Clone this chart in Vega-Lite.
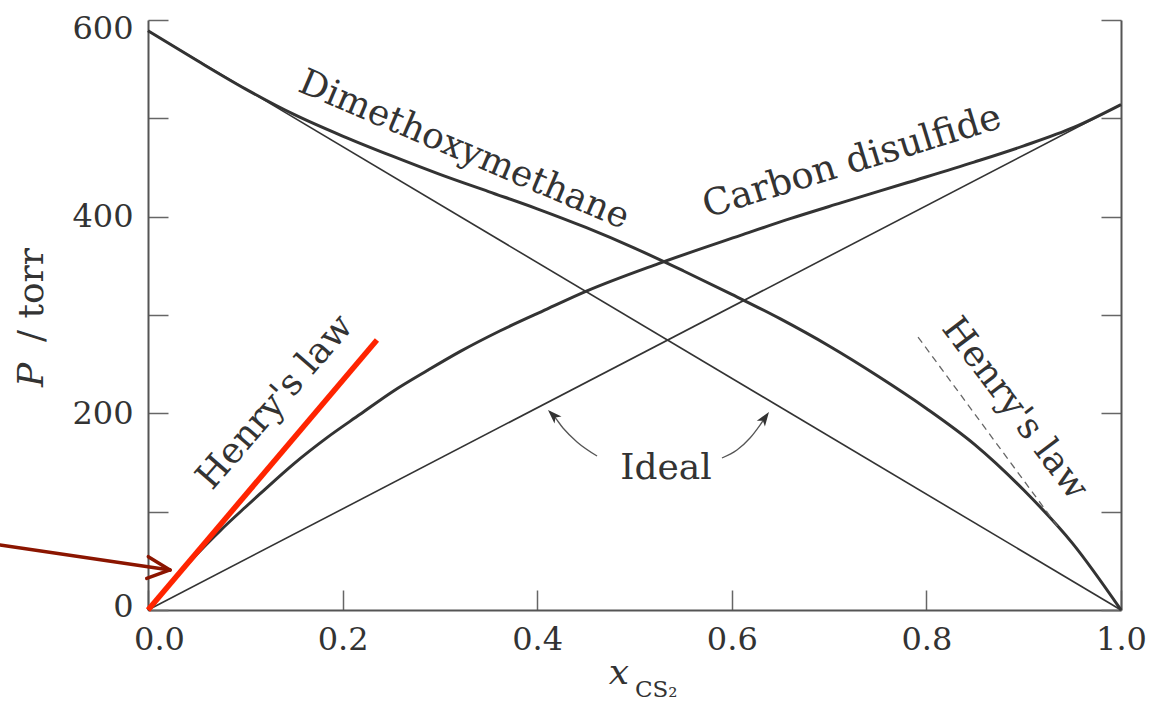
{
  "$schema": "https://vega.github.io/schema/vega-lite/v6.json",
  "width": 973,
  "height": 590,
  "autosize": {"type": "none"},
  "padding": {"left": 148, "top": 20, "right": 44, "bottom": 94},
  "background": "white",
  "config": {"view": {"stroke": null}, "font": "DejaVu Serif"},
  "encoding": {
    "x": {"field": "x", "type": "quantitative", "scale": {"domain": [0, 1], "nice": false, "zero": false},
      "axis": {"orient": "bottom", "values": [0, 0.2, 0.4, 0.6, 0.8, 1], "format": ".1f", "tickSize": -20, "labelPadding": 34,
        "labelOffset": {"condition": {"test": "datum.value === 0", "value": 11}, "value": 0},
        "labelFontSize": 32, "labelFont": "DejaVu Serif", "labelColor": "#333333", "domainColor": "#555555", "domainWidth": 2,
        "tickColor": "#666666", "tickWidth": 1.5, "title": null, "grid": false, "labelFlush": false, "labelOverlap": false}},
    "y": {"field": "p", "type": "quantitative", "scale": {"domain": [0, 600], "nice": false, "zero": false}, "axis": null}
  },
  "resolve": {"axis": {"y": "independent"}},
  "layer": [
    {
      "data": {"values": [
        {"curve": "CS2", "x": 0, "p": 0}, {"curve": "CS2", "x": 0.025, "p": 29}, {"curve": "CS2", "x": 0.05, "p": 56.5},
        {"curve": "CS2", "x": 0.074, "p": 80.5}, {"curve": "CS2", "x": 0.1, "p": 104.5}, {"curve": "CS2", "x": 0.115, "p": 118},
        {"curve": "CS2", "x": 0.1495, "p": 148.4}, {"curve": "CS2", "x": 0.184, "p": 175.3}, {"curve": "CS2", "x": 0.218, "p": 199},
        {"curve": "CS2", "x": 0.252, "p": 222.5}, {"curve": "CS2", "x": 0.287, "p": 243.5}, {"curve": "CS2", "x": 0.321, "p": 263},
        {"curve": "CS2", "x": 0.362, "p": 284}, {"curve": "CS2", "x": 0.41, "p": 306}, {"curve": "CS2", "x": 0.45, "p": 324},
        {"curve": "CS2", "x": 0.524, "p": 352}, {"curve": "CS2", "x": 0.609, "p": 381}, {"curve": "CS2", "x": 0.66, "p": 398},
        {"curve": "CS2", "x": 0.712, "p": 414}, {"curve": "CS2", "x": 0.78, "p": 434.5}, {"curve": "CS2", "x": 0.849, "p": 455.5},
        {"curve": "CS2", "x": 0.9, "p": 472}, {"curve": "CS2", "x": 0.952, "p": 491}, {"curve": "CS2", "x": 1, "p": 514},
        {"curve": "DMM", "x": 0, "p": 589}, {"curve": "DMM", "x": 0.05, "p": 559}, {"curve": "DMM", "x": 0.1, "p": 530},
        {"curve": "DMM", "x": 0.15, "p": 504}, {"curve": "DMM", "x": 0.2, "p": 482}, {"curve": "DMM", "x": 0.25, "p": 462},
        {"curve": "DMM", "x": 0.3, "p": 443}, {"curve": "DMM", "x": 0.35, "p": 425.5}, {"curve": "DMM", "x": 0.4, "p": 408},
        {"curve": "DMM", "x": 0.45, "p": 389}, {"curve": "DMM", "x": 0.5, "p": 368}, {"curve": "DMM", "x": 0.55, "p": 345},
        {"curve": "DMM", "x": 0.6, "p": 321}, {"curve": "DMM", "x": 0.65, "p": 296}, {"curve": "DMM", "x": 0.7, "p": 268.5},
        {"curve": "DMM", "x": 0.75, "p": 238}, {"curve": "DMM", "x": 0.8, "p": 205}, {"curve": "DMM", "x": 0.85, "p": 168},
        {"curve": "DMM", "x": 0.9, "p": 122}, {"curve": "DMM", "x": 0.95, "p": 68}, {"curve": "DMM", "x": 1, "p": 0}
      ]},
      "mark": {"type": "line", "interpolate": "monotone", "color": "#333333", "strokeWidth": 3},
      "encoding": {
        "y": {"field": "p", "type": "quantitative", "scale": {"domain": [0, 600], "nice": false, "zero": false},
          "axis": {"orient": "left", "values": [0, 100, 200, 300, 400, 500, 600], "labelExpr": "datum.value % 200 === 0 ? datum.label : ''",
            "labelOffset": {"condition": [{"test": "datum.value === 600", "value": 8}, {"test": "datum.value === 0", "value": -4}], "value": 0},
            "tickSize": -20, "labelPadding": 35, "labelFontSize": 32, "labelFont": "DejaVu Serif", "labelColor": "#333333",
            "domainColor": "#555555", "domainWidth": 2, "tickColor": "#666666", "tickWidth": 1.5, "title": null, "grid": false,
            "labelFlush": false, "labelOverlap": false}},
        "detail": {"field": "curve"}
      }
    },
    {
      "data": {"values": [
        {"line": "DMM ideal", "x": 0, "p": 589}, {"line": "DMM ideal", "x": 1, "p": 0},
        {"line": "CS2 ideal", "x": 0, "p": 0}, {"line": "CS2 ideal", "x": 1, "p": 514}
      ]},
      "mark": {"type": "line", "color": "#333333", "strokeWidth": 1.6},
      "encoding": {
        "y": {"field": "p", "type": "quantitative", "scale": {"domain": [0, 600], "nice": false, "zero": false},
          "axis": {"orient": "right", "values": [0, 100, 200, 300, 400, 500, 600], "labels": false, "tickSize": -20,
            "domainColor": "#555555", "domainWidth": 2, "tickColor": "#666666", "tickWidth": 1.5, "title": null, "grid": false}},
        "detail": {"field": "line"}
      }
    },
    {
      "data": {"values": [{"x": 0, "p": 0}, {"x": 0.2353, "p": 274.6}]},
      "mark": {"type": "line", "color": "#ff2400", "strokeWidth": 5.5},
      "encoding": {}
    },
    {
      "data": {"values": [{"x": 0.7914, "p": 277.6}, {"x": 0.9353, "p": 84.4}]},
      "mark": {"type": "line", "color": "#666666", "strokeWidth": 1.3, "strokeDash": [7, 5]},
      "encoding": {}
    },
    {
      "data": {"values": [
        {"part": "shaft", "x": -0.1521, "p": 66.1}, {"part": "shaft", "x": 0.0226, "p": 40.7},
        {"part": "arm1", "x": 0.0003, "p": 54.2}, {"part": "arm1", "x": 0.0226, "p": 40.7},
        {"part": "arm2", "x": -0.0013, "p": 32.2}, {"part": "arm2", "x": 0.0226, "p": 40.7}
      ]},
      "mark": {"type": "line", "color": "#8b1500", "strokeWidth": 3.5, "strokeCap": "round", "strokeJoin": "round"},
      "encoding": {"detail": {"field": "part"}}
    },
    {
      "data": {"values": [
        {"part": "left", "x": 0.4615, "p": 156.6}, {"part": "left", "x": 0.4409, "p": 170.9}, {"part": "left", "x": 0.4265, "p": 185.1},
        {"part": "left", "x": 0.4162, "p": 198.4}, {"part": "left", "x": 0.4125, "p": 202},
        {"part": "right", "x": 0.5899, "p": 154.6}, {"part": "right", "x": 0.6053, "p": 162.7}, {"part": "right", "x": 0.6187, "p": 174.9},
        {"part": "right", "x": 0.629, "p": 188.1}, {"part": "right", "x": 0.6365, "p": 199}
      ]},
      "mark": {"type": "line", "interpolate": "monotone", "color": "#555555", "strokeWidth": 1.3},
      "encoding": {"detail": {"field": "part"}}
    },
    {
      "data": {"values": [{"x": 0.4111, "p": 203.4}]},
      "mark": {"type": "point", "shape": "M0,0L0.7,2L0,1.5L-0.7,2Z", "angle": 315, "size": 200, "filled": true, "color": "#333333", "opacity": 1},
      "encoding": {}
    },
    {
      "data": {"values": [{"x": 0.6382, "p": 201.4}]},
      "mark": {"type": "point", "shape": "M0,0L0.7,2L0,1.5L-0.7,2Z", "angle": 35, "size": 200, "filled": true, "color": "#333333", "opacity": 1},
      "encoding": {}
    },
    {
      "data": {"values": [{"x": 0.3248, "p": 467.8, "label": "Dimethoxymethane"}]},
      "mark": {"type": "text", "angle": 23, "fontSize": 36, "font": "DejaVu Serif", "color": "#333333", "align": "center", "baseline": "middle"},
      "encoding": {"text": {"field": "label"}}
    },
    {
      "data": {"values": [{"x": 0.7236, "p": 455.6, "label": "Carbon disulfide"}]},
      "mark": {"type": "text", "angle": -17, "fontSize": 37, "font": "DejaVu Serif", "color": "#333333", "align": "center", "baseline": "middle"},
      "encoding": {"text": {"field": "label"}}
    },
    {
      "data": {"values": [{"x": 0.1305, "p": 211.5, "label": "Henry's law"}]},
      "mark": {"type": "text", "angle": -49, "fontSize": 36, "font": "DejaVu Serif", "color": "#333333", "align": "center", "baseline": "middle"},
      "encoding": {"text": {"field": "label"}}
    },
    {
      "data": {"values": [{"x": 0.891, "p": 204.9, "label": "Henry's law"}]},
      "mark": {"type": "text", "angle": 53, "fontSize": 36, "font": "DejaVu Serif", "color": "#333333", "align": "center", "baseline": "middle"},
      "encoding": {"text": {"field": "label"}}
    },
    {
      "data": {"values": [{"x": 0.5324, "p": 144.4, "label": "Ideal"}]},
      "mark": {"type": "text", "fontSize": 36, "font": "DejaVu Serif", "color": "#333333", "align": "center", "baseline": "middle"},
      "encoding": {"text": {"field": "label"}}
    },
    {
      "data": {"values": [{"x": -0.119, "p": 239, "label": "P"}]},
      "mark": {"type": "text", "angle": -90, "fontSize": 36, "fontStyle": "italic", "font": "DejaVu Serif", "color": "#333333", "align": "center", "baseline": "middle"},
      "encoding": {"text": {"field": "label"}}
    },
    {
      "data": {"values": [{"x": -0.119, "p": 320.3, "label": "/ torr"}]},
      "mark": {"type": "text", "angle": -90, "fontSize": 36, "font": "DejaVu Serif", "color": "#333333", "align": "center", "baseline": "middle"},
      "encoding": {"text": {"field": "label"}}
    },
    {
      "data": {"values": [{"x": 0.484, "p": -63.6, "label": "x"}]},
      "mark": {"type": "text", "fontSize": 36, "fontStyle": "italic", "font": "DejaVu Serif", "color": "#333333", "align": "center", "baseline": "middle"},
      "encoding": {"text": {"field": "label"}}
    },
    {
      "data": {"values": [{"x": 0.5005, "p": -81.5, "label": "CS₂"}]},
      "mark": {"type": "text", "fontSize": 23, "font": "DejaVu Serif", "color": "#333333", "align": "left", "baseline": "middle"},
      "encoding": {"text": {"field": "label"}}
    }
  ]
}
